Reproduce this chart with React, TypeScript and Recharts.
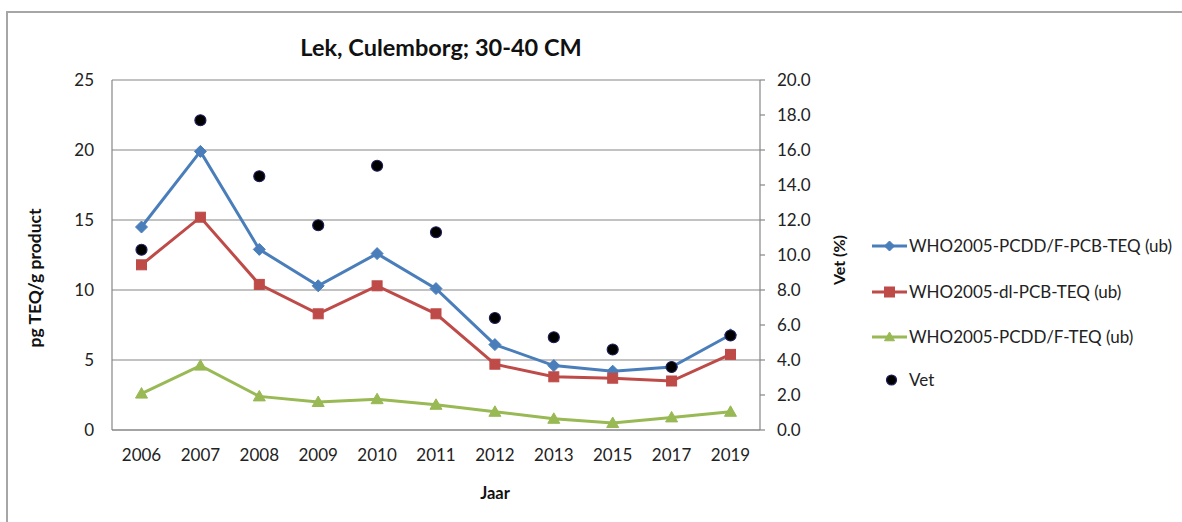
import React from 'react';
import { ComposedChart, Line, XAxis, YAxis, CartesianGrid, Legend } from 'recharts';

const years = ['2006', '2007', '2008', '2009', '2010', '2011', '2012', '2013', '2015', '2017', '2019'];
const totalTeq = [14.5, 19.9, 12.9, 10.3, 12.6, 10.1, 6.1, 4.6, 4.2, 4.5, 6.8];
const dlPcbTeq = [11.8, 15.2, 10.4, 8.3, 10.3, 8.3, 4.7, 3.8, 3.7, 3.5, 5.4];
const pcddfTeq = [2.6, 4.6, 2.4, 2.0, 2.2, 1.8, 1.3, 0.8, 0.5, 0.9, 1.3];
const vet = [10.3, 17.7, 14.5, 11.7, 15.1, 11.3, 6.4, 5.3, 4.6, 3.6, 5.4];

const leftTicks = [0, 5, 10, 15, 20, 25];
const rightTicks = [0, 2, 4, 6, 8, 10, 12, 14, 16, 18, 20];

const seriesNames = {
  total: 'WHO2005-PCDD/F-PCB-TEQ (ub)',
  dl: 'WHO2005-dl-PCB-TEQ (ub)',
  pcddf: 'WHO2005-PCDD/F-TEQ (ub)',
  vet: 'Vet',
};

const COLORS = { total: '#4A7EBB', dl: '#BE4B48', pcddf: '#98B954', vet: '#000000' };

const data = years.map((y, i) => ({
  year: y,
  total: totalTeq[i],
  dl: dlPcbTeq[i],
  pcddf: pcddfTeq[i],
  vet: vet[i],
}));

const FONT = 'Lato, "Open Sans", sans-serif';
const AXIS_GRAY = '#868686';
const TEXT = '#222222';

const Diamond = ({ cx, cy, color, r = 6 }: any) =>
  cx == null || cy == null ? null : (
    <path d={`M${cx},${cy - r} L${cx + r},${cy} L${cx},${cy + r} L${cx - r},${cy} Z`} fill={color} stroke={color} strokeWidth={1} />
  );
const Square = ({ cx, cy, color, r = 5 }: any) =>
  cx == null || cy == null ? null : (
    <rect x={cx - r} y={cy - r} width={2 * r} height={2 * r} fill={color} stroke={color} strokeWidth={1} />
  );
const Triangle = ({ cx, cy, color, r = 6 }: any) =>
  cx == null || cy == null ? null : (
    <path d={`M${cx},${cy - r} L${cx + r},${cy + r * 0.75} L${cx - r},${cy + r * 0.75} Z`} fill={color} stroke={color} strokeWidth={1} />
  );
const Dot = ({ cx, cy, r = 5.5 }: any) =>
  cx == null || cy == null ? null : <circle cx={cx} cy={cy} r={r} fill="#000000" stroke="#1F1F5A" strokeWidth={1.2} />;

const LegendContent = () => {
  const items = [
    { key: 'total', y: 18, marker: (x: number, y: number) => <Diamond cx={x} cy={y} color={COLORS.total} r={5} /> },
    { key: 'dl', y: 64, marker: (x: number, y: number) => <Square cx={x} cy={y} color={COLORS.dl} r={5} /> },
    { key: 'pcddf', y: 109, marker: (x: number, y: number) => <Triangle cx={x} cy={y} color={COLORS.pcddf} r={5} /> },
  ];
  return (
    <svg width={314} height={175} style={{ display: 'block' }}>
      {items.map((it) => (
        <g key={it.key}>
          <line x1={4} x2={39} y1={it.y} y2={it.y} stroke={(COLORS as any)[it.key]} strokeWidth={3} />
          {it.marker(21.5, it.y)}
          <text x={41} y={it.y + 6} fontFamily={FONT} fontSize={17} fill={TEXT}>
            {(seriesNames as any)[it.key]}
          </text>
        </g>
      ))}
      <Dot cx={23.5} cy={152} r={5} />
      <text x={41} y={158} fontFamily={FONT} fontSize={17} fill={TEXT}>
        {seriesNames.vet}
      </text>
    </svg>
  );
};

export default function App() {
  return (
    <div style={{ position: 'absolute', left: 0, top: 0, width: 1182, height: 522, overflow: 'hidden', background: '#fff' }}>
      <div
        style={{
          position: 'absolute',
          left: 6,
          top: 11,
          width: 1300,
          height: 700,
          border: '2px solid #A6A6A6',
          boxSizing: 'border-box',
        }}
      />
      <div style={{ position: 'absolute', left: 0, top: 0 }}>
        <ComposedChart width={1182} height={522} data={data} margin={{ top: 80, right: 342, bottom: 52, left: 0 }}>
          <CartesianGrid yAxisId="left" vertical={false} stroke={AXIS_GRAY} strokeWidth={1.2} />
          <XAxis
            dataKey="year"
            padding={{ left: 29.5, right: 29.5 }}
            height={40}
            axisLine={{ stroke: AXIS_GRAY, strokeWidth: 1.2 }}
            tickLine={false}
            tickSize={0}
            tickMargin={19}
            interval={0}
            tick={{ fontFamily: FONT, fontSize: 17, fill: TEXT }}
          />
          <YAxis
            yAxisId="left"
            domain={[0, 25]}
            ticks={leftTicks}
            width={112}
            axisLine={{ stroke: AXIS_GRAY, strokeWidth: 1.2 }}
            tickLine={false}
            tickSize={0}
            tickMargin={18}
            tick={{ fontFamily: FONT, fontSize: 17, fill: TEXT }}
          />
          <YAxis
            yAxisId="right"
            orientation="right"
            domain={[0, 20]}
            ticks={rightTicks}
            width={80}
            axisLine={{ stroke: AXIS_GRAY, strokeWidth: 1.2 }}
            tickLine={{ stroke: AXIS_GRAY, strokeWidth: 1.2 }}
            tickSize={5}
            tickMargin={12}
            tickFormatter={(v: number) => v.toFixed(1)}
            tick={{ fontFamily: FONT, fontSize: 17, fill: TEXT }}
          />
          <Legend
            layout="vertical"
            align="center"
            verticalAlign="middle"
            content={LegendContent}
            wrapperStyle={{ position: 'absolute', left: 868, top: 228, width: 314, height: 175 }}
          />
          <Line
            yAxisId="left"
            dataKey="total"
            name={seriesNames.total}
            stroke={COLORS.total}
            strokeWidth={3}
            isAnimationActive={false}
            dot={(p: any) => <Diamond key={`d${p.index}`} cx={p.cx} cy={p.cy} color={COLORS.total} />}
            activeDot={false}
          />
          <Line
            yAxisId="left"
            dataKey="dl"
            name={seriesNames.dl}
            stroke={COLORS.dl}
            strokeWidth={3}
            isAnimationActive={false}
            dot={(p: any) => <Square key={`s${p.index}`} cx={p.cx} cy={p.cy} color={COLORS.dl} />}
            activeDot={false}
          />
          <Line
            yAxisId="left"
            dataKey="pcddf"
            name={seriesNames.pcddf}
            stroke={COLORS.pcddf}
            strokeWidth={3}
            isAnimationActive={false}
            dot={(p: any) => <Triangle key={`t${p.index}`} cx={p.cx} cy={p.cy} color={COLORS.pcddf} />}
            activeDot={false}
          />
          <Line
            yAxisId="right"
            dataKey="vet"
            name={seriesNames.vet}
            stroke="none"
            strokeWidth={0}
            isAnimationActive={false}
            dot={(p: any) => <Dot key={`v${p.index}`} cx={p.cx} cy={p.cy} />}
            activeDot={false}
          />
          <text x={441} y={56} textAnchor="middle" fontFamily={FONT} fontSize={23.5} fontWeight={700} fill="#111">
            Lek, Culemborg; 30-40 CM
          </text>
          <text
            x={41}
            y={278}
            textAnchor="middle"
            transform="rotate(-90, 41, 278)"
            fontFamily={FONT}
            fontSize={17.5}
            fontWeight={700}
            fill="#111"
          >
            pg TEQ/g product
          </text>
          <text
            x={845}
            y={260}
            textAnchor="middle"
            transform="rotate(-90, 845, 260)"
            fontFamily={FONT}
            fontSize={16}
            fontWeight={700}
            fill="#111"
          >
            Vet (%)
          </text>
          <text x={495} y={499} textAnchor="middle" fontFamily={FONT} fontSize={16.5} fontWeight={700} fill="#111">
            Jaar
          </text>
        </ComposedChart>
      </div>
    </div>
  );
}
